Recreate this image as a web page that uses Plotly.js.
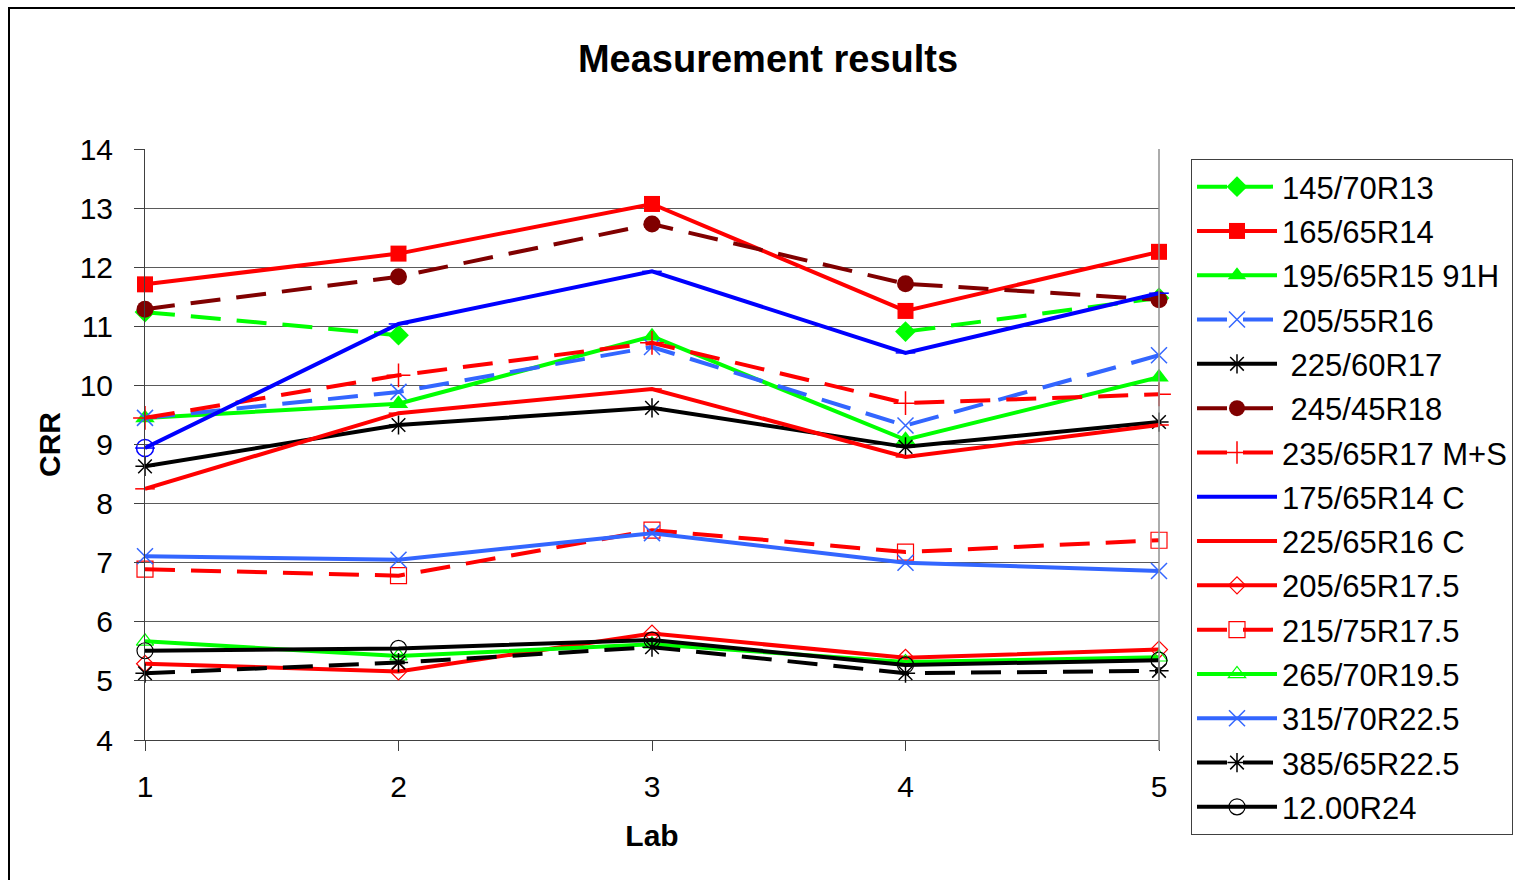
<!DOCTYPE html>
<html>
<head>
<meta charset="utf-8">
<script src="https://cdn.plot.ly/plotly-3.0.1.min.js"></script>
<style>
  html, body { margin: 0; padding: 0; background: #ffffff; }
  #chart { width: 1515px; height: 880px; }
</style>
</head>
<body>
<div id="chart"></div>
<script>
// ---- data ----
const labs = [1, 2, 3, 4, 5];
const tyreNames = [
  "145/70R13", "165/65R14", "195/65R15 91H", "205/55R16", " 225/60R17",
  " 245/45R18", "235/65R17 M+S", "175/65R14 C", "225/65R16 C", "205/65R17.5",
  "215/75R17.5", "265/70R19.5", "315/70R22.5", "385/65R22.5", "12.00R24"
];
const crr_145_70R13   = [11.24, 10.85, null, 10.91, 11.48];
const crr_165_65R14   = [11.71, 12.23, 13.07, 11.26, 12.26];
const crr_195_65R15   = [9.45, 9.69, 10.83, 9.08, 10.14];
const crr_205_55R16   = [9.45, 9.89, 10.65, 9.32, 10.51];
const crr_225_60R17   = [8.63, 9.33, 9.62, 8.96, 9.38];
const crr_245_45R18   = [11.29, 11.84, 12.73, 11.72, 11.45];
const crr_235_65R17   = [9.45, 10.17, 10.72, 9.70, 9.85];
const crr_175_65R14C  = [8.94, 11.04, 11.93, 10.55, 11.56];
const crr_225_65R16C  = [8.25, 9.53, 9.94, 8.79, 9.33];
const crr_205_65R175  = [5.29, 5.16, 5.80, 5.39, 5.53];
const crr_215_75R175  = [6.89, 6.78, 7.55, 7.18, 7.38];
const crr_265_70R195  = [5.67, 5.42, 5.62, 5.32, 5.40];
const crr_315_70R225  = [7.11, 7.05, 7.50, 7.00, 6.86];
const crr_385_65R225  = [5.13, 5.31, 5.57, 5.13, 5.17];
const crr_1200R24     = [5.51, 5.55, 5.69, 5.27, 5.35];

const seriesValues = [
  crr_145_70R13, crr_165_65R14, crr_195_65R15, crr_205_55R16, crr_225_60R17,
  crr_245_45R18, crr_235_65R17, crr_175_65R14C, crr_225_65R16C, crr_205_65R175,
  crr_215_75R175, crr_265_70R195, crr_315_70R225, crr_385_65R225, crr_1200R24
];
const yTicks = [4, 5, 6, 7, 8, 9, 10, 11, 12, 13, 14];

// ---- styles ----
const GREEN = "#00ff00", RED = "#ff0000", BLUE = "#0000ff",
      LBLUE = "#3366ff", DRED = "#800000", BLACK = "#000000";
const DASH = "30px,16px";
const styles = [
  {c: GREEN, dash: DASH,    sym: "diamond",          size: 16, lw: 0},
  {c: RED,   dash: "solid", sym: "square",           size: 16, lw: 0},
  {c: GREEN, dash: "solid", sym: "triangle-up",      size: 17, lw: 0},
  {c: LBLUE, dash: DASH,    sym: "x-thin-open",      size: 16, lw: 1.5},
  {c: BLACK, dash: "solid", sym: "asterisk-open",    size: 16, lw: 1.5},
  {c: DRED,  dash: DASH,    sym: "circle",           size: 17, lw: 0},
  {c: RED,   dash: DASH,    sym: "cross-thin-open",  size: 17, lw: 1.5},
  {c: BLUE,  dash: "solid", sym: "line-ew-open",     size: 14, lw: 1.5},
  {c: RED,   dash: "solid", sym: "line-ew-open",     size: 14, lw: 1.5},
  {c: RED,   dash: "solid", sym: "diamond-open",     size: 13, lw: 1.2},
  {c: RED,   dash: DASH,    sym: "square-open",      size: 16, lw: 1.2},
  {c: GREEN, dash: "solid", sym: "triangle-up-open", size: 15, lw: 1.2},
  {c: LBLUE, dash: "solid", sym: "x-thin-open",      size: 16, lw: 1.5},
  {c: BLACK, dash: DASH,    sym: "asterisk-open",    size: 16, lw: 1.5},
  {c: BLACK, dash: "solid", sym: "circle-open",      size: 16, lw: 1.2}
];

const traces = seriesValues.map((vals, i) => {
  const s = styles[i];
  return {
    type: "scatter",
    mode: "lines+markers",
    name: tyreNames[i],
    legendgroup: "g" + i,
    x: labs,
    y: vals,
    connectgaps: false,
    cliponaxis: false,
    line: {color: s.c, width: 4, dash: s.dash},
    marker: {
      symbol: s.sym,
      size: s.size,
      color: s.c,
      line: {color: s.c, width: s.lw}
    }
  };
});

// open circle drawn on the first point of 175/65R14 C (as in the original)
traces.push({
  type: "scatter",
  mode: "markers",
  name: tyreNames[7],
  legendgroup: "g7",
  showlegend: false,
  x: [labs[0]],
  y: [crr_175_65R14C[0]],
  cliponaxis: false,
  marker: {symbol: "circle-open", size: 17, color: BLUE, line: {color: BLUE, width: 1.5}}
});

const L = 145, R = 1159, T = 149, B = 740, W = 1515, H = 880;
const pw = R - L, ph = B - T;
const px2x = p => (p - L) / pw;
const py2y = p => (B - p) / ph;

const FONT = "Liberation Sans, Arial, sans-serif";

const layout = {
  width: W, height: H,
  margin: {l: L, r: W - R, t: T, b: H - B, pad: 0, autoexpand: false},
  paper_bgcolor: "#ffffff",
  plot_bgcolor: "#ffffff",
  font: {family: FONT, color: "#000000", size: 30},
  showlegend: true,
  title: {
    text: "<b>Measurement results</b>",
    font: {size: 38, family: FONT, color: "#000"},
    x: 768 / W, xanchor: "center", xref: "container",
    y: 1 - 59 / H, yanchor: "middle", yref: "container"
  },
  xaxis: {
    range: [1, 5],
    tickvals: labs,
    ticktext: labs.map(String),
    showgrid: false,
    zeroline: false,
    showline: true, linecolor: "#404040", linewidth: 1,
    ticks: "outside", ticklen: 10, tickcolor: "#404040", tickwidth: 1,
    ticklabelstandoff: 10,
    tickfont: {size: 30},
    title: {text: "<b>Lab</b>", font: {size: 30}, standoff: 22},
    automargin: false
  },
  yaxis: {
    range: [4, 14],
    tickvals: yTicks,
    showgrid: true, gridcolor: "#5a5a5a", gridwidth: 1,
    zeroline: false,
    showline: true, linecolor: "#404040", linewidth: 1,
    ticks: "outside", ticklen: 10, tickcolor: "#404040", tickwidth: 1,
    ticklabelstandoff: 15,
    tickfont: {size: 30},
    title: {text: "<b>CRR</b>", font: {size: 30}, standoff: 10},
    automargin: false
  },
  legend: {
    x: px2x(1191), xanchor: "left",
    y: py2y(159), yanchor: "top",
    bgcolor: "#ffffff",
    bordercolor: "#404040", borderwidth: 1,
    font: {size: 31, family: FONT},
    itemwidth: 80,
    tracegroupgap: 1,
    traceorder: "grouped",
    maxheight: 740
  },
  shapes: [
    // outer chart border
    {type: "rect", xref: "paper", yref: "paper",
     x0: px2x(9), x1: px2x(1540), y0: py2y(900), y1: py2y(8),
     line: {color: "#000000", width: 2}, fillcolor: "rgba(0,0,0,0)", layer: "below"},
    // plot area right border
    {type: "line", xref: "paper", yref: "paper",
     x0: 1, x1: 1, y0: py2y(750), y1: 1,
     line: {color: "#909090", width: 1.5}}
  ]
};

Plotly.newPlot("chart", traces, layout, {displayModeBar: false, staticPlot: true});
</script>
</body>
</html>
